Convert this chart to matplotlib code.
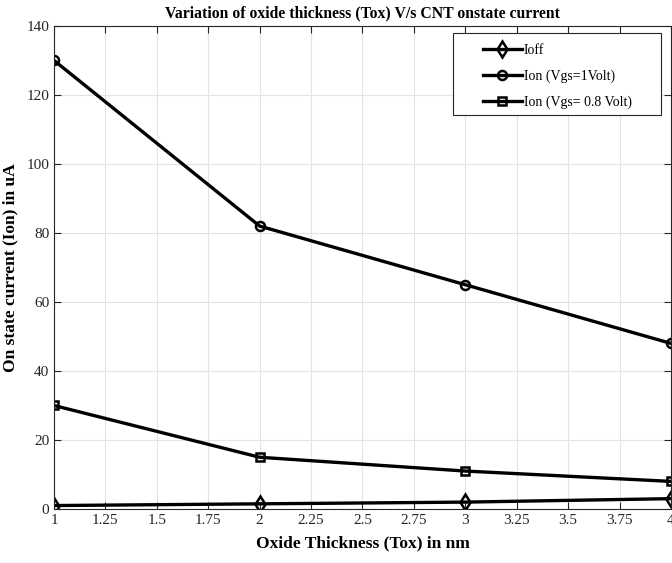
import matplotlib
matplotlib.use("Agg")
import matplotlib.pyplot as plt
from matplotlib.patches import Rectangle

tox = [1, 2, 3, 4]
ioff = [1.0, 1.5, 2.0, 3.0]
ion_1v = [130, 82, 65, 48]
ion_08v = [30, 15, 11, 8]
xticks = [1, 1.25, 1.5, 1.75, 2, 2.25, 2.5, 2.75, 3, 3.25, 3.5, 3.75, 4]
xtick_labels = ["1", "1.25", "1.5", "1.75", "2", "2.25", "2.5", "2.75", "3", "3.25", "3.5", "3.75", "4"]
yticks = [0, 20, 40, 60, 80, 100, 120, 140]

plt.rcParams['font.family'] = ['Liberation Serif', 'DejaVu Serif']

fig = plt.figure(figsize=(6.72, 5.63), dpi=100)
ax = fig.add_axes([0.0804, 0.0959, 0.918, 0.858])

lw = 2.4
ax.plot(tox, ioff, color='black', lw=lw, marker='d', ms=8, mfc='none', mew=1.8, label='Ioff')
ax.plot(tox, ion_1v, color='black', lw=lw, marker='o', ms=6.5, mfc='none', mew=1.8, label='Ion (Vgs=1Volt)')
ax.plot(tox, ion_08v, color='black', lw=lw, marker='s', ms=6, mfc='none', mew=1.8, label='Ion (Vgs= 0.8 Volt)')

ax.set_xlim(1, 4)
ax.set_ylim(0, 140)
ax.set_xticks(xticks)
ax.set_xticklabels(xtick_labels)
ax.set_yticks(yticks)
ax.tick_params(labelsize=11, direction='in', length=5, width=0.8, colors='#262626',
               top=True, right=True)
ax.grid(True, color='#e3e3e3', lw=0.8)
ax.set_axisbelow(True)
for s in ax.spines.values():
    s.set_color('#262626')
    s.set_linewidth(0.8)

ax.set_title('Variation of oxide thickness (Tox) V/s CNT onstate current', fontsize=11.3, fontweight='bold', pad=6)
ax.set_xlabel('Oxide Thickness (Tox) in nm', fontsize=12.5, fontweight='bold', labelpad=6)
ax.set_ylabel('On state current (Ion) in uA', fontsize=12.5, fontweight='bold', labelpad=6)

frame = Rectangle((0.647, 0.8157), 0.337, 0.17, transform=ax.transAxes, facecolor='white',
                  edgecolor='#262626', lw=0.8, zorder=4)
ax.add_patch(frame)
leg = ax.legend(loc='upper left', bbox_to_anchor=(0.695, 0.963), fontsize=10, frameon=False,
                handlelength=2.8, handletextpad=0.15, borderpad=0, borderaxespad=0,
                labelspacing=0.9)
leg.set_zorder(5)

fig.savefig('out.png', dpi=100)
